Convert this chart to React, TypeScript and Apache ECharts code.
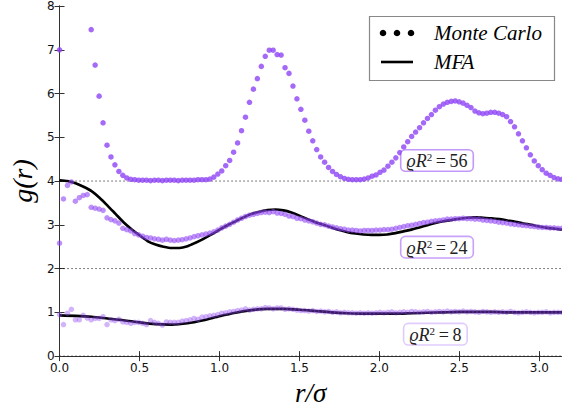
import { useEffect, useRef } from "react";
import * as echarts from "echarts";

// sample positions r_i (Monte Carlo histogram bins), 0 .. pi
const R = [
  0.0, 0.0247, 0.0495, 0.0742, 0.0989, 0.1237, 0.1484, 0.1732, 0.1979, 0.2226,
  0.2474, 0.2721, 0.2968, 0.3216, 0.3463, 0.3711, 0.3958, 0.4205, 0.4453, 0.47,
  0.4947, 0.5195, 0.5442, 0.569, 0.5937, 0.6184, 0.6432, 0.6679, 0.6926, 0.7174,
  0.7421, 0.7668, 0.7916, 0.8163, 0.8411, 0.8658, 0.8905, 0.9153, 0.94, 0.9647,
  0.9895, 1.0142, 1.039, 1.0637, 1.0884, 1.1132, 1.1379, 1.1626, 1.1874, 1.2121,
  1.2369, 1.2616, 1.2863, 1.3111, 1.3358, 1.3605, 1.3853, 1.41, 1.4347, 1.4595,
  1.4842, 1.509, 1.5337, 1.5584, 1.5832, 1.6079, 1.6326, 1.6574, 1.6821, 1.7069,
  1.7316, 1.7563, 1.7811, 1.8058, 1.8305, 1.8553, 1.88, 1.9047, 1.9295, 1.9542,
  1.979, 2.0037, 2.0284, 2.0532, 2.0779, 2.1026, 2.1274, 2.1521, 2.1769, 2.2016,
  2.2263, 2.2511, 2.2758, 2.3005, 2.3253, 2.35, 2.3748, 2.3995, 2.4242, 2.449,
  2.4737, 2.4984, 2.5232, 2.5479, 2.5726, 2.5974, 2.6221, 2.6469, 2.6716, 2.6963,
  2.7211, 2.7458, 2.7705, 2.7953, 2.82, 2.8448, 2.8695, 2.8942, 2.919, 2.9437,
  2.9684, 2.9932, 3.0179, 3.0427, 3.0674, 3.0921, 3.1169, 3.1416,
];

// Monte Carlo g(r), rho R^2 = 56
const MC56 = [
  7.0, null, null, null, null, null, null, null, 7.46, 6.65,
  5.94, 5.33, 4.82, 4.55, 4.37, 4.22, 4.13, 4.07, 4.04, 4.03,
  4.02, 4.02, 4.02, 4.01, 4.02, 4.02, 4.01, 4.02, 4.02, 4.02,
  4.01, 4.02, 4.02, 4.02, 4.02, 4.03, 4.03, 4.03, 4.045, 4.09,
  4.16, 4.23, 4.35, 4.47, 4.66, 4.87, 5.15, 5.46, 5.8, 6.1,
  6.34, 6.62, 6.85, 6.99, 6.99, 6.89, 6.88, 6.59, 6.46, 6.17,
  5.88, 5.64, 5.39, 5.14, 4.92, 4.72, 4.55, 4.43, 4.31, 4.22,
  4.15, 4.1, 4.06, 4.04, 4.03, 4.03, 4.03, 4.045, 4.07, 4.11,
  4.14, 4.2, 4.25, 4.34, 4.43, 4.53, 4.65, 4.78, 4.9, 5.02,
  5.12, 5.22, 5.33, 5.43, 5.52, 5.62, 5.7, 5.76, 5.8, 5.82,
  5.83, 5.81, 5.78, 5.73, 5.68, 5.6, 5.56, 5.54, 5.55, 5.57,
  5.57, 5.55, 5.52, 5.47, 5.36, 5.24, 5.08, 4.92, 4.76, 4.6,
  4.46, 4.35, 4.26, 4.18, 4.13, 4.08, 4.05, 4.04,
];

// Monte Carlo g(r), rho R^2 = 24
const MC24 = [
  2.58, 3.59, 3.9, 3.98, 3.54, 3.62, 3.67, 3.69, 3.4, 3.38,
  3.36, 3.33, 3.16, 3.12, 3.09, 3.04, 2.92, 2.89, 2.86, 2.8,
  2.77, 2.74, 2.71, 2.7, 2.68, 2.67, 2.65, 2.67, 2.65, 2.64,
  2.65, 2.66, 2.68, 2.7, 2.73, 2.75, 2.77, 2.79, 2.81, 2.84,
  2.88, 2.93, 2.97, 3.01, 3.06, 3.11, 3.15, 3.19, 3.22, 3.24,
  3.26, 3.28, 3.29, 3.28, 3.3, 3.27, 3.26, 3.24, 3.2, 3.19,
  3.15, 3.14, 3.11, 3.09, 3.07, 3.04, 3.01, 3.0, 2.97, 2.95,
  2.93, 2.91, 2.9, 2.88, 2.88, 2.87, 2.86, 2.87, 2.87, 2.87,
  2.88, 2.88, 2.89, 2.89, 2.9, 2.92, 2.94, 2.96, 2.98, 2.99,
  3.01, 3.03, 3.05, 3.06, 3.08, 3.09, 3.1, 3.11, 3.13, 3.13,
  3.14, 3.14, 3.15, 3.14, 3.14, 3.13, 3.13, 3.11, 3.1, 3.09,
  3.08, 3.06, 3.05, 3.04, 3.02, 3.01, 3.0, 2.99, 2.98, 2.97,
  2.96, 2.95, 2.94, 2.94, 2.93, 2.93, 2.92, 2.92,
];

// Monte Carlo g(r), rho R^2 = 8
const MC8 = [
  0.95, 0.72, 0.98, 1.07, 0.83, 0.83, 0.93, 0.87, 0.83, 0.86,
  0.86, 0.9, 0.72, 0.83, 0.81, 0.84, 0.78, 0.77, 0.75, 0.77,
  0.77, 0.75, 0.72, 0.81, 0.77, 0.75, 0.71, 0.78, 0.77, 0.77,
  0.77, 0.8, 0.81, 0.83, 0.86, 0.84, 0.89, 0.9, 0.92, 0.93,
  0.95, 0.98, 0.99, 1.01, 1.02, 1.04, 1.05, 1.08, 1.05, 1.07,
  1.08, 1.08, 1.11, 1.1, 1.08, 1.1, 1.1, 1.07, 1.08, 1.07,
  1.05, 1.04, 1.04, 1.03, 1.04, 1.02, 1.03, 1.01, 1.02, 1.0,
  1.01, 0.99, 1.0, 0.99, 0.99, 0.98, 0.99, 0.98, 0.99, 0.98,
  0.99, 1.0, 0.99, 1.0, 1.01, 0.99, 1.0, 1.01, 1.0, 1.02,
  1.01, 1.0, 1.01, 1.02, 1.0, 1.01, 1.02, 1.01, 1.03, 1.01,
  1.02, 1.01, 1.03, 1.01, 1.02, 1.01, 1.0, 1.02, 1.01, 1.0,
  1.01, 1.0, 1.01, 1.0, 1.02, 1.0, 0.99, 1.0, 1.01, 1.0,
  0.99, 1.0, 1.0, 1.01, 0.99, 1.0, 1.0, 1.0,
];

// MFA curves (read every 0.05 / 0.1)
const MFA24_R = [
  0, 0.05, 0.1, 0.15, 0.2, 0.25, 0.3, 0.35, 0.4, 0.45, 0.5, 0.55, 0.6, 0.65, 0.7, 0.75,
  0.8, 0.85, 0.9, 0.95, 1.0, 1.05, 1.1, 1.15, 1.2, 1.25, 1.3, 1.35, 1.4, 1.45, 1.5, 1.55,
  1.6, 1.65, 1.7, 1.75, 1.8, 1.85, 1.9, 1.95, 2.0, 2.05, 2.1, 2.15, 2.2, 2.25, 2.3, 2.35,
  2.4, 2.45, 2.5, 2.55, 2.6, 2.65, 2.7, 2.75, 2.8, 2.85, 2.9, 2.95, 3.0, 3.05, 3.1, 3.1416,
];
const MFA24_G = [
  4.02, 4.0, 3.95, 3.87, 3.77, 3.62, 3.44, 3.25, 3.06, 2.9, 2.76, 2.63, 2.55, 2.5, 2.47, 2.47,
  2.51, 2.59, 2.68, 2.78, 2.89, 2.99, 3.08, 3.17, 3.25, 3.3, 3.34, 3.35, 3.33, 3.28, 3.21, 3.13,
  3.06, 3.0, 2.94, 2.88, 2.83, 2.8, 2.78, 2.77, 2.77, 2.78, 2.81, 2.85, 2.89, 2.94, 2.99, 3.04,
  3.08, 3.11, 3.14, 3.16, 3.17, 3.16, 3.15, 3.13, 3.1, 3.07, 3.03, 3.0, 2.96, 2.93, 2.91, 2.89,
];
const MFA8_R = [
  0, 0.1, 0.2, 0.3, 0.4, 0.5, 0.6, 0.7, 0.8, 0.9, 1.0, 1.1, 1.2, 1.3, 1.4, 1.5, 1.6,
  1.7, 1.8, 1.9, 2.0, 2.1, 2.2, 2.3, 2.4, 2.5, 2.6, 2.7, 2.8, 2.9, 3.0, 3.1416,
];
const MFA8_G = [
  0.93, 0.92, 0.9, 0.86, 0.82, 0.77, 0.73, 0.72, 0.75, 0.82, 0.91, 0.99, 1.05, 1.08, 1.08, 1.06, 1.03,
  1.0, 0.98, 0.97, 0.97, 0.97, 0.98, 0.99, 1.0, 1.01, 1.01, 1.01, 1.0, 1.0, 1.0, 1.0,
];

const REF_LINES = [0, 2, 4];
const LABEL_TEXT = ["56", "24", "8"];
const LABEL_X = [2.36, 2.36, 2.35];
const LABEL_Y = [4.47, 2.49, 0.5];

const X_MAX = Math.PI;
const PURPLE = "#8f44f5";
const SERIF = "'Liberation Serif', 'DejaVu Serif', serif";

function pairs(xs: number[], ys: (number | null)[]) {
  const out: number[][] = [];
  xs.forEach((x, i) => {
    const y = ys[i];
    if (y !== null && y !== undefined) out.push([x, y]);
  });
  return out;
}

function labelMark(idx: number, border: string) {
  return {
    symbol: "circle",
    symbolSize: 1,
    itemStyle: { color: "rgba(0,0,0,0)" },
    silent: true,
    data: [{ coord: [LABEL_X[idx], LABEL_Y[idx]] }],
    label: {
      show: true,
      position: "inside",
      formatter: "{i|ϱR}{s|2}{n|\u2009=\u2009" + LABEL_TEXT[idx] + "}",
      backgroundColor: "#fff",
      borderColor: border,
      borderWidth: 1.6,
      borderRadius: 4,
      padding: [1, 5, 0, 5],
      rich: {
        i: { fontFamily: SERIF, fontStyle: "italic", fontSize: 18, color: "#222", lineHeight: 19 },
        s: { fontFamily: SERIF, fontSize: 11, color: "#222", verticalAlign: "top", lineHeight: 11 },
        n: { fontFamily: SERIF, fontSize: 18, color: "#222", lineHeight: 19 },
      },
    },
  };
}

const axisLine = { show: true, lineStyle: { color: "#333", width: 1 } };
const axisTick = { show: true, inside: true, length: 5, lineStyle: { color: "#333", width: 1 } };

const option: any = {
  animation: false,
  backgroundColor: "#fff",
  grid: { left: 56.7, right: 0, top: 6, bottom: 51, containLabel: false },
  xAxis: [
    {
      type: "value",
      min: 0,
      max: X_MAX,
      interval: 0.5,
      position: "bottom",
      axisLine,
      axisTick,
      splitLine: { show: false },
      axisLabel: {
        formatter: (v: number) => v.toFixed(1),
        color: "#111",
        fontSize: 12,
        fontFamily: "'DejaVu Sans', sans-serif",
        margin: 6,
        showMaxLabel: false,
      },
      name: "r/σ",
      nameLocation: "middle",
      nameGap: 17,
      nameTextStyle: {
        fontFamily: SERIF,
        fontStyle: "italic",
        fontSize: 27,
        color: "#000",
        verticalAlign: "top",
      },
    },
    {
      type: "value",
      min: 0,
      max: X_MAX,
      interval: 0.5,
      position: "top",
      axisLine,
      axisTick,
      axisLabel: { show: false },
      splitLine: { show: false },
    },
  ],
  yAxis: [
    {
      type: "value",
      min: 0,
      max: 8,
      interval: 1,
      position: "left",
      axisLine,
      axisTick,
      splitLine: { show: false },
      axisLabel: {
        color: "#111",
        fontSize: 12,
        fontFamily: "'DejaVu Sans', sans-serif",
        margin: 5,
      },
      name: "g(r)",
      nameLocation: "middle",
      nameGap: 9,
      nameTextStyle: {
        fontFamily: SERIF,
        fontStyle: "italic",
        fontSize: 28,
        color: "#000",
      },
    },
    {
      type: "value",
      min: 0,
      max: 8,
      interval: 1,
      position: "right",
      axisLine,
      axisTick,
      axisLabel: { show: false },
      splitLine: { show: false },
    },
  ],
  series: [
    ...REF_LINES.map((v) => ({
      type: "line",
      data: [
        [0, v],
        [X_MAX, v],
      ],
      symbol: "none",
      silent: true,
      lineStyle: { color: "#000", width: 1, type: [1, 3] },
      z: 1,
    })),
    {
      name: "MFA24",
      type: "line",
      data: pairs(MFA24_R, MFA24_G),
      smooth: 0.25,
      symbol: "none",
      lineStyle: { color: "#000", width: 2.6 },
      z: 2,
    },
    {
      name: "MFA8",
      type: "line",
      data: pairs(MFA8_R, MFA8_G),
      smooth: 0.25,
      symbol: "none",
      lineStyle: { color: "#000", width: 2.6 },
      z: 2,
    },
    {
      name: "MC24",
      type: "scatter",
      data: pairs(R, MC24),
      symbolSize: 5.5,
      itemStyle: { color: "rgba(143,68,245,0.75)" },
      clip: true,
      z: 3,
      markPoint: labelMark(1, "rgba(143,68,245,0.5)"),
    },
    {
      name: "MC8",
      type: "scatter",
      data: pairs(R, MC8),
      symbolSize: 5.5,
      itemStyle: { color: "rgba(143,68,245,0.5)" },
      clip: true,
      z: 3,
      markPoint: labelMark(2, "rgba(143,68,245,0.28)"),
    },
    {
      name: "MC56",
      type: "scatter",
      data: pairs(R, MC56),
      symbolSize: 5.5,
      itemStyle: { color: PURPLE },
      clip: true,
      z: 3,
      markPoint: labelMark(0, "rgba(143,68,245,0.55)"),
    },
  ],
  graphic: [
    {
      type: "rect",
      shape: { x: 369.5, y: 16.5, width: 185, height: 64 },
      style: { fill: "#fff", stroke: "#888", lineWidth: 1.2 },
      z: 100,
    },
    { type: "circle", shape: { cx: 383, cy: 33, r: 3.3 }, style: { fill: "#000" }, z: 101 },
    { type: "circle", shape: { cx: 397, cy: 33, r: 3.3 }, style: { fill: "#000" }, z: 101 },
    { type: "circle", shape: { cx: 411, cy: 33, r: 3.3 }, style: { fill: "#000" }, z: 101 },
    {
      type: "line",
      shape: { x1: 381, y1: 62, x2: 413, y2: 62 },
      style: { stroke: "#000", lineWidth: 2.6 },
      z: 101,
    },
    {
      type: "text",
      x: 434,
      y: 33,
      style: {
        text: "Monte Carlo",
        fontFamily: SERIF,
        fontStyle: "italic",
        fontSize: 21,
        fill: "#000",
        verticalAlign: "middle",
      },
      z: 101,
    },
    {
      type: "text",
      x: 434,
      y: 62,
      style: {
        text: "MFA",
        fontFamily: SERIF,
        fontStyle: "italic",
        fontSize: 21,
        fill: "#000",
        verticalAlign: "middle",
      },
      z: 101,
    },
  ],
};

export default function App() {
  const ref = useRef<HTMLDivElement>(null);
  useEffect(() => {
    if (!ref.current) return;
    const chart = echarts.init(ref.current, null, { renderer: "svg" });
    chart.setOption(option);
    return () => chart.dispose();
  }, []);
  return (
    <div
      ref={ref}
      style={{ position: "fixed", left: 0, top: 0, width: 562, height: 411, background: "#fff" }}
    />
  );
}
